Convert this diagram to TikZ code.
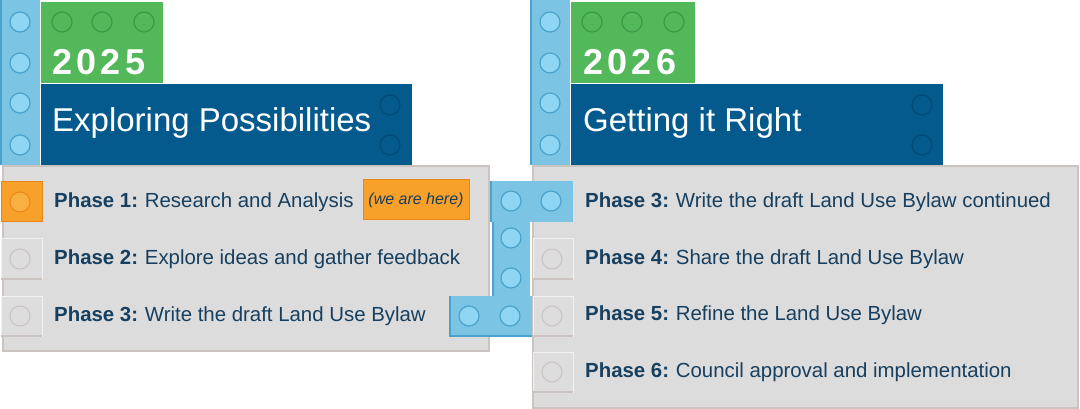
\documentclass[tikz,border=0pt]{standalone}
\usepackage{fontspec}
\setmainfont{Liberation Sans}
\newfontfamily\yrfont[LetterSpace=12]{Liberation Sans}
\begin{document}
\begin{tikzpicture}[x=1pt,y=-1pt,
  stud/.style={circle,minimum size=20pt,inner sep=0,fill=studb,draw=lbedge,line width=1.2pt},
  gstud/.style={circle,minimum size=20pt,inner sep=0,fill=gfill,draw=gedge,line width=1.2pt},
  dstud/.style={circle,minimum size=20pt,inner sep=0,fill=dblue,draw=dedge,line width=1.2pt},
  ostud/.style={circle,minimum size=20pt,inner sep=0,fill=ostudc,draw=oedge,line width=1pt},
  pstud/.style={circle,minimum size=20pt,inner sep=0,fill=pgray,draw=pedge,line width=1pt},
  row/.style={anchor=west,text=navy,font=\fontsize{20.4}{22}\selectfont,inner sep=0},
  yr/.style={anchor=west,text=white,font=\fontsize{36}{38}\selectfont\yrfont\bfseries,inner sep=0},
  ttl/.style={anchor=west,text=white,font=\fontsize{33}{35}\selectfont,inner sep=0}]
\definecolor{lblue}{HTML}{7CC4E4}
\definecolor{lbedge}{HTML}{4AA3CC}
\definecolor{studb}{HTML}{8FD6F5}
\definecolor{gfill}{HTML}{52B85A}
\definecolor{gedge}{HTML}{3E9A45}
\definecolor{dblue}{HTML}{045A8D}
\definecolor{dedge}{HTML}{034A75}
\definecolor{panel}{HTML}{DCDCDC}
\definecolor{pedge}{HTML}{CBC3C0}
\definecolor{pgray}{HTML}{DDDDDD}
\definecolor{orange}{HTML}{F7A02A}
\definecolor{oedge}{HTML}{E8861A}
\definecolor{ostudc}{HTML}{F9B040}
\definecolor{navy}{HTML}{173F5F}
\useasboundingbox (0,0) rectangle (1080,409);
% ===== left =====
\fill[panel,draw=pedge,line width=2pt] (3,166) rectangle (489,351);
\fill[lblue] (1,0) rectangle (40,165);
\draw[lbedge,line width=1.2pt] (1,0) -- (1,165);
\foreach \yy in {22,63,103,145} \node[stud] at (20,\yy) {};
\fill[gfill] (41,2) rectangle (163,83);
\foreach \xx in {62,102,144} \node[gstud] at (\xx,22) {};
\node[yr] (y1) at (52,62) {2025};
\fill[dblue] (41,84) rectangle (412,165);
\foreach \yy in {105,145} \node[dstud] at (390,\yy) {};
\node[ttl] (t1) at (52,123) {Exploring Possibilities};
\fill[orange,draw=oedge,line width=1pt] (1,182) rectangle (42,222);
\node[ostud] at (20,202) {};
\foreach \yy in {259,316} {
  \fill[pgray,draw=white!60!pgray,line width=1pt] (1,\yy-20) rectangle (42,\yy+20);
  \draw[pedge,line width=1.5pt] (1,\yy+20) -- (42,\yy+20);
  \node[pstud] at (20,\yy) {};}
\node[row] (p1) at (54,202) {\textbf{Phase 1:}\,\,Research and Analysis};
\node[fill=orange,draw=oedge,line width=1pt,minimum width=106pt,minimum height=40pt,inner sep=0,
  text=navy,font=\fontsize{16}{18}\selectfont\itshape] (here) at (416,200) {(we are here)};
\node[row] (p2) at (54,259) {\textbf{Phase 2:}\,\,Explore ideas and gather feedback};
\node[row] (p3) at (54,316) {\textbf{Phase 3:}\,\,Write the draft Land Use Bylaw};
% ===== right =====
\fill[panel,draw=pedge,line width=2pt] (533,166) rectangle (1078,408);
\fill[lblue] (531,0) rectangle (570,165);
\draw[lbedge,line width=1.2pt] (531,0) -- (531,165);
\foreach \yy in {22,63,103,145} \node[stud] at (550,\yy) {};
\fill[gfill] (571,2) rectangle (695,83);
\foreach \xx in {592,632,674} \node[gstud] at (\xx,22) {};
\node[yr] (y2) at (583,62) {2026};
\fill[dblue] (571,84) rectangle (943,165);
\foreach \yy in {105,145} \node[dstud] at (922,\yy) {};
\node[ttl] (t2) at (583,123) {Getting it Right};
\foreach \yy in {259,316,372} {
  \fill[pgray,draw=white!60!pgray,line width=1pt] (533,\yy-20) rectangle (573,\yy+20);
  \draw[pedge,line width=1.5pt] (533,\yy+20) -- (573,\yy+20);
  \node[pstud] at (552,\yy) {};}
% T brick
\fill[lblue] (491,181) rectangle (573,222);
\fill[lblue] (493,222) rectangle (530,296);
\fill[lblue] (450,296) rectangle (532,336);
\draw[lbedge,line width=1.2pt] (491,181) -- (491,222) (493,222)--(493,296) (450,296)--(450,336)--(532,336);
\foreach \xx in {511,551} \node[stud] at (\xx,201) {};
\foreach \yy in {238,278} \node[stud] at (511,\yy) {};
\foreach \xx in {469,510} \node[stud] at (\xx,316) {};
\node[row] (q3) at (585,202) {\textbf{Phase 3:}\,\,Write the draft Land Use Bylaw continued};
\node[row] (q4) at (585,259) {\textbf{Phase 4:}\,\,Share the draft Land Use Bylaw};
\node[row] (q5) at (585,315) {\textbf{Phase 5:}\,\,Refine the Land Use Bylaw};
\node[row] (q6) at (585,372) {\textbf{Phase 6:}\,\,Council approval and implementation};
\end{tikzpicture}
\end{document}
